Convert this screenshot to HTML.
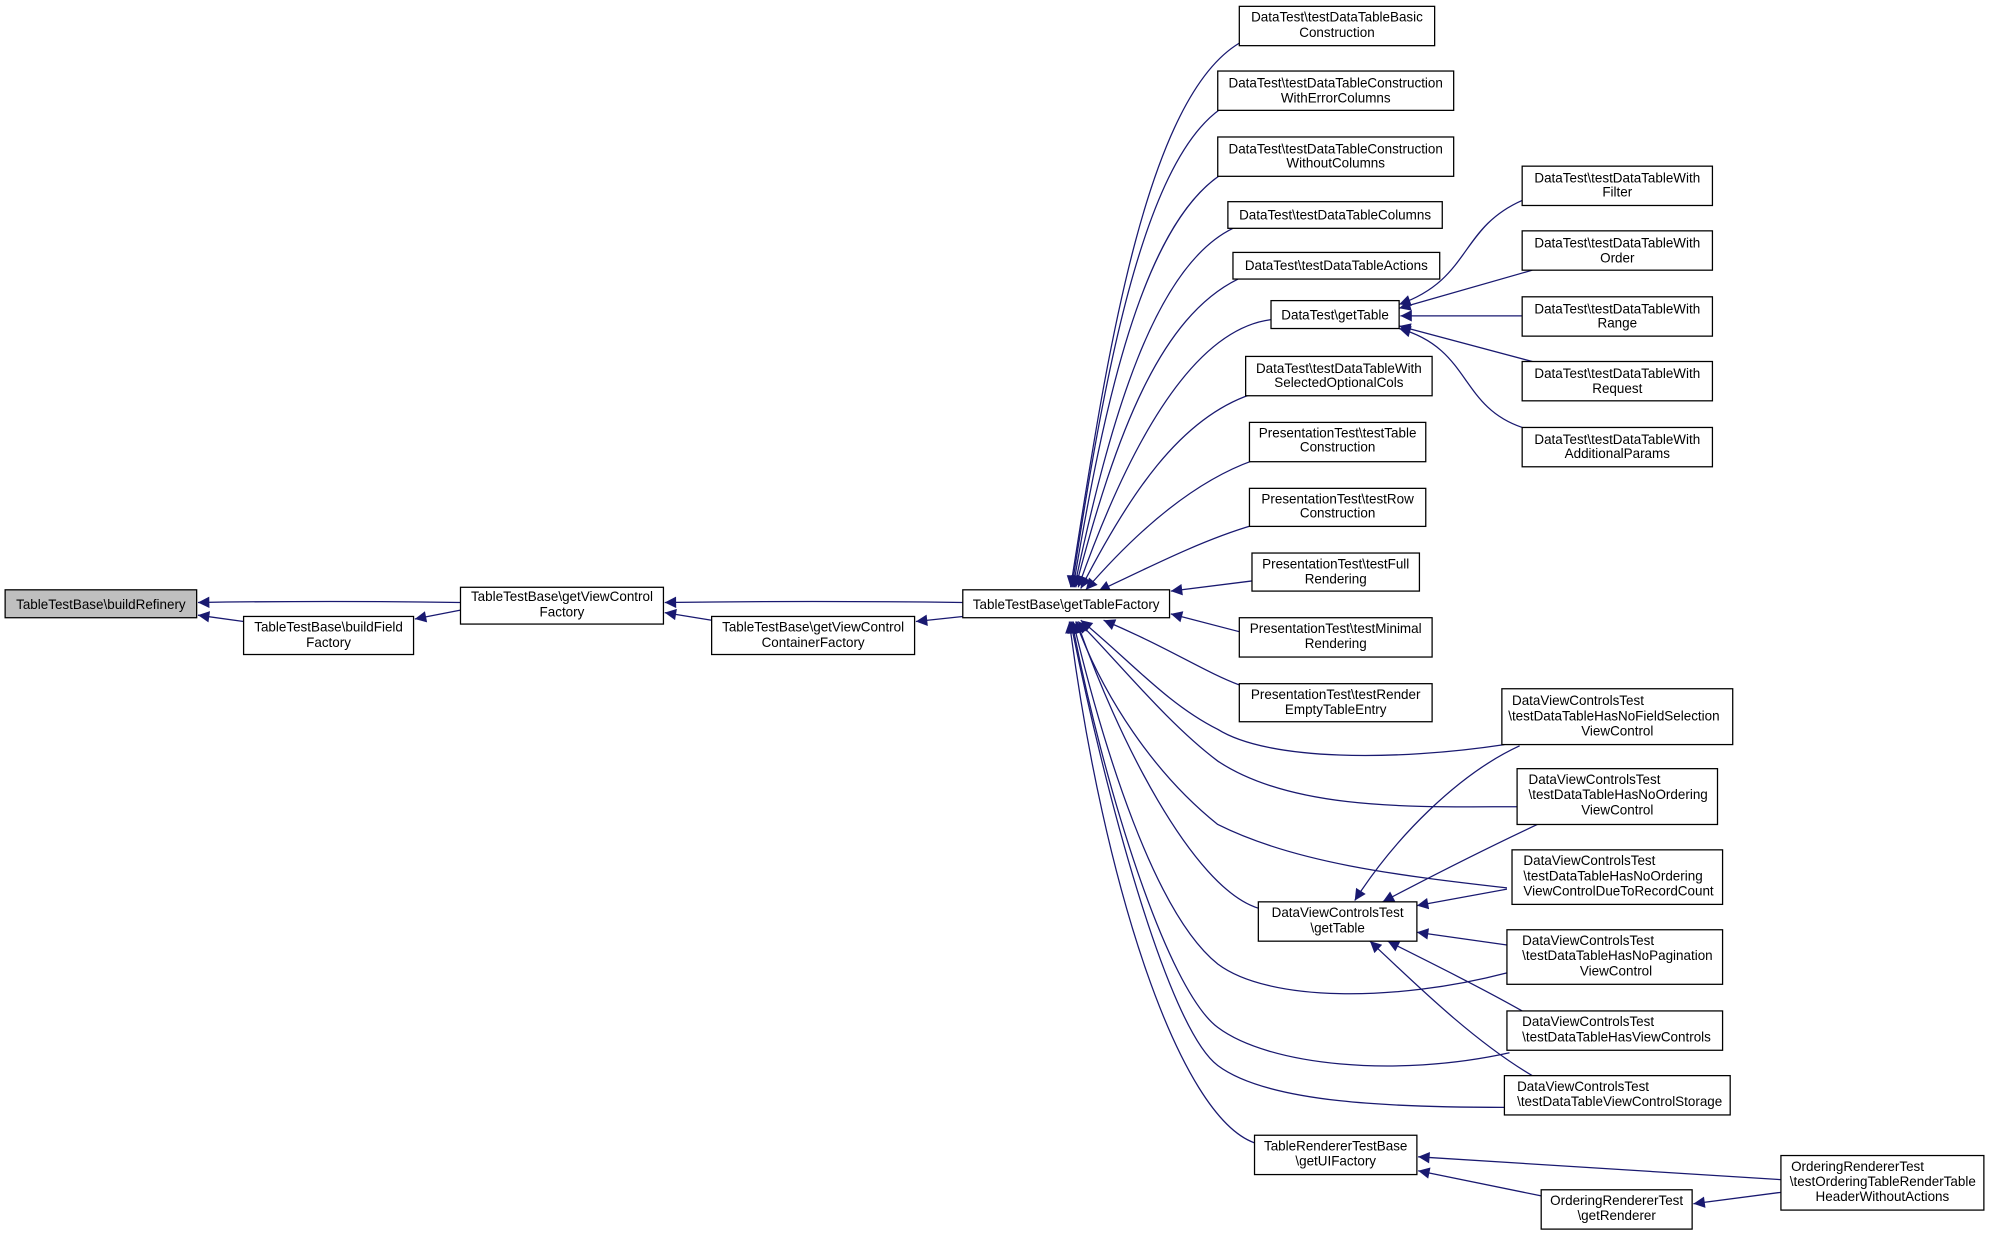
<!DOCTYPE html>
<html><head><meta charset="utf-8"><style>
html,body{margin:0;padding:0;background:#fff}
svg{display:block}
text{font-family:"Liberation Sans",Arial,sans-serif;font-size:10.6px;fill:#000}
.b{fill:#fff;stroke:#000;stroke-width:1}
.e{fill:none;stroke:#191970;stroke-width:1}
</style></head><body>
<svg width="1989" height="1239" viewBox="0 0 1568 976.8" xmlns="http://www.w3.org/2000/svg">
<defs><marker id="a" viewBox="0 0 10 10" refX="10" refY="5" markerWidth="11" markerHeight="9" markerUnits="userSpaceOnUse" orient="auto"><path d="M0,0L10,5L0,10z" fill="#191970"/></marker></defs>
<g class="e" marker-end="url(#a)">
<path d="M363,475 C300,474 220,474 156,475"/>
<path d="M192,490 L156,485"/>
<path d="M363,481 L327,488"/>
<path d="M759,475 C680,474 600,474 524,475"/>
<path d="M561,489 L524,483"/>
<path d="M759,486 L722,490"/>
<path d="M977,34 C900,80 870,300 844,463"/>
<path d="M962,86 C900,130 870,300 845,463"/>
<path d="M962,138 C900,180 870,320 846,463"/>
<path d="M972,180 C910,210 875,330 847,463"/>
<path d="M976,220 C915,250 880,340 848,463"/>
<path d="M1002,252 C940,260 890,350 850,463"/>
<path d="M986,311 C930,330 890,390 852,464"/>
<path d="M988,363 C940,380 895,420 856,465"/>
<path d="M988,414 C950,425 910,445 866,466"/>
<path d="M987,458 L923,466"/>
<path d="M977,498 L923,484"/>
<path d="M977,540 C950,530 920,510 870,489"/>
<path d="M1186,587 C1100,600 1000,600 960,575 C920,555 890,520 852,489"/>
<path d="M1196,636 C1120,636 1020,640 960,600 C920,570 880,520 850,490"/>
<path d="M1188,700 C1100,690 1020,680 960,650 C910,610 870,550 848,490"/>
<path d="M1188,767 C1100,790 1000,790 960,760 C910,720 870,590 846,490"/>
<path d="M1190,830 C1100,850 1000,840 960,810 C920,780 870,620 845,490"/>
<path d="M1186,873 C1100,873 1000,870 960,840 C920,810 870,620 844,490"/>
<path d="M992,716 C940,700 880,580 849,490"/>
<path d="M989,901 C930,880 870,700 843,490"/>
<path d="M1200,158 C1150,180 1160,220 1103,240"/>
<path d="M1208,213 L1103,243"/>
<path d="M1200,249 L1104,249"/>
<path d="M1208,285 L1103,257"/>
<path d="M1200,337 C1150,320 1160,275 1103,259"/>
<path d="M1198,588 C1150,610 1100,660 1068,710"/>
<path d="M1212,650 C1180,665 1130,690 1090,711"/>
<path d="M1188,701 L1117,714"/>
<path d="M1188,745 L1117,735"/>
<path d="M1200,797 C1170,780 1130,760 1094,742"/>
<path d="M1208,848 C1160,820 1110,770 1080,742"/>
<path d="M1404,930 C1300,924 1200,918 1118,912"/>
<path d="M1216,943 L1118,923"/>
<path d="M1404,940 L1335,949"/>
</g>
<rect x="4" y="465" width="151" height="22" fill="#bfbfbf" stroke="#000"/>
<text x="79.5" y="480" text-anchor="middle">TableTestBase\buildRefinery</text>
<rect class="b" x="192" y="486" width="134" height="30"/>
<text x="259" y="498" text-anchor="middle">TableTestBase\buildField</text><text x="259" y="510" text-anchor="middle">Factory</text>
<rect class="b" x="363" y="463" width="160" height="29"/>
<text x="443" y="474" text-anchor="middle">TableTestBase\getViewControl</text><text x="443" y="486" text-anchor="middle">Factory</text>
<rect class="b" x="561" y="486" width="160" height="30"/>
<text x="641" y="498" text-anchor="middle">TableTestBase\getViewControl</text><text x="641" y="510" text-anchor="middle">ContainerFactory</text>
<rect class="b" x="759" y="465" width="163" height="22"/>
<text x="840.5" y="480" text-anchor="middle">TableTestBase\getTableFactory</text>
<rect class="b" x="977" y="5" width="154" height="31"/>
<text x="1054" y="17" text-anchor="middle">DataTest\testDataTableBasic</text><text x="1054" y="29" text-anchor="middle">Construction</text>
<rect class="b" x="960" y="56" width="186" height="31"/>
<text x="1053" y="69" text-anchor="middle">DataTest\testDataTableConstruction</text><text x="1053" y="81" text-anchor="middle">WithErrorColumns</text>
<rect class="b" x="960" y="108" width="186" height="31"/>
<text x="1053" y="121" text-anchor="middle">DataTest\testDataTableConstruction</text><text x="1053" y="132" text-anchor="middle">WithoutColumns</text>
<rect class="b" x="968" y="159" width="169" height="21"/>
<text x="1052.5" y="173" text-anchor="middle">DataTest\testDataTableColumns</text>
<rect class="b" x="972" y="199" width="163" height="21"/>
<text x="1053.5" y="213" text-anchor="middle">DataTest\testDataTableActions</text>
<rect class="b" x="1002" y="237" width="101" height="22"/>
<text x="1052.5" y="252" text-anchor="middle">DataTest\getTable</text>
<rect class="b" x="982" y="281" width="147" height="31"/>
<text x="1055.5" y="294" text-anchor="middle">DataTest\testDataTableWith</text><text x="1055.5" y="305" text-anchor="middle">SelectedOptionalCols</text>
<rect class="b" x="985" y="333" width="139" height="31"/>
<text x="1054.5" y="345" text-anchor="middle">PresentationTest\testTable</text><text x="1054.5" y="356" text-anchor="middle">Construction</text>
<rect class="b" x="985" y="385" width="139" height="30"/>
<text x="1054.5" y="397" text-anchor="middle">PresentationTest\testRow</text><text x="1054.5" y="408" text-anchor="middle">Construction</text>
<rect class="b" x="987" y="436" width="132" height="30"/>
<text x="1053" y="448" text-anchor="middle">PresentationTest\testFull</text><text x="1053" y="460" text-anchor="middle">Rendering</text>
<rect class="b" x="977" y="487" width="152" height="31"/>
<text x="1053" y="499" text-anchor="middle">PresentationTest\testMinimal</text><text x="1053" y="511" text-anchor="middle">Rendering</text>
<rect class="b" x="977" y="539" width="152" height="30"/>
<text x="1053" y="551" text-anchor="middle">PresentationTest\testRender</text><text x="1053" y="563" text-anchor="middle">EmptyTableEntry</text>
<rect class="b" x="992" y="711" width="125" height="31"/>
<text x="1054.5" y="723" text-anchor="middle">DataViewControlsTest</text><text x="1054.5" y="735" text-anchor="middle">\getTable</text>
<rect class="b" x="989" y="895" width="128" height="31"/>
<text x="1053" y="907" text-anchor="middle">TableRendererTestBase</text><text x="1053" y="919" text-anchor="middle">\getUIFactory</text>
<rect class="b" x="1200" y="131" width="150" height="31"/>
<text x="1275" y="144" text-anchor="middle">DataTest\testDataTableWith</text><text x="1275" y="155" text-anchor="middle">Filter</text>
<rect class="b" x="1200" y="182" width="150" height="31"/>
<text x="1275" y="195" text-anchor="middle">DataTest\testDataTableWith</text><text x="1275" y="207" text-anchor="middle">Order</text>
<rect class="b" x="1200" y="234" width="150" height="31"/>
<text x="1275" y="247" text-anchor="middle">DataTest\testDataTableWith</text><text x="1275" y="258" text-anchor="middle">Range</text>
<rect class="b" x="1200" y="285" width="150" height="31"/>
<text x="1275" y="298" text-anchor="middle">DataTest\testDataTableWith</text><text x="1275" y="310" text-anchor="middle">Request</text>
<rect class="b" x="1200" y="337" width="150" height="31"/>
<text x="1275" y="350" text-anchor="middle">DataTest\testDataTableWith</text><text x="1275" y="361" text-anchor="middle">AdditionalParams</text>
<rect class="b" x="1184" y="543" width="182" height="44"/>
<text x="1192" y="556">DataViewControlsTest</text><text x="1189" y="568">\testDataTableHasNoFieldSelection</text><text x="1275" y="580" text-anchor="middle">ViewControl</text>
<rect class="b" x="1196" y="606" width="158" height="44"/>
<text x="1205" y="618">DataViewControlsTest</text><text x="1205" y="630">\testDataTableHasNoOrdering</text><text x="1275" y="642" text-anchor="middle">ViewControl</text>
<rect class="b" x="1192" y="670" width="166" height="43"/>
<text x="1201" y="682">DataViewControlsTest</text><text x="1201" y="694">\testDataTableHasNoOrdering</text><text x="1201" y="706">ViewControlDueToRecordCount</text>
<rect class="b" x="1188" y="733" width="170" height="43"/>
<text x="1200" y="745">DataViewControlsTest</text><text x="1200" y="757">\testDataTableHasNoPagination</text><text x="1274" y="769" text-anchor="middle">ViewControl</text>
<rect class="b" x="1188" y="797" width="170" height="31"/>
<text x="1200" y="809">DataViewControlsTest</text><text x="1200" y="821">\testDataTableHasViewControls</text>
<rect class="b" x="1186" y="848" width="178" height="31"/>
<text x="1196" y="860">DataViewControlsTest</text><text x="1196" y="872">\testDataTableViewControlStorage</text>
<rect class="b" x="1215" y="938" width="119" height="31"/>
<text x="1274.5" y="950" text-anchor="middle">OrderingRendererTest</text><text x="1274.5" y="962" text-anchor="middle">\getRenderer</text>
<rect class="b" x="1404" y="911" width="160" height="43"/>
<text x="1412" y="923">OrderingRendererTest</text><text x="1411" y="935">\testOrderingTableRenderTable</text><text x="1484" y="947" text-anchor="middle">HeaderWithoutActions</text>
</svg>
</body></html>
